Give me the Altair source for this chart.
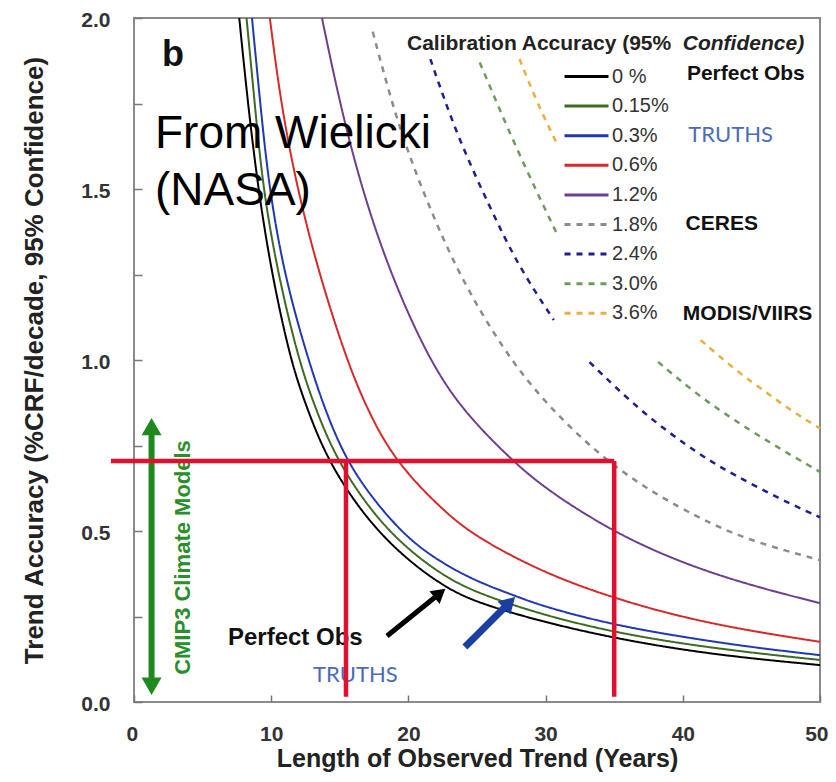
import altair as alt
import pandas as pd

# ---------------- data ----------------
acc_labels = ["0 %", "0.15%", "0.3%", "0.6%", "1.2%", "1.8%", "2.4%", "3.0%", "3.6%"]
acc_colors = ["#000000", "#3d6b22", "#2238b0", "#d62a2a", "#6f3f8f",
              "#8c8c8c", "#1f1f8f", "#6e9b5c", "#e8b040"]
acc_dashes = [[1, 0], [1, 0], [1, 0], [1, 0], [1, 0], [6, 6], [6, 6], [6, 6], [6, 6]]
acc_widths = [2, 2, 2, 2, 2, 2.5, 2.5, 2.5, 2.5]

black_years = [7.67, 8.3, 9.05, 10.0, 11.4, 12.5, 14.1, 17.0, 20.0, 22.7, 25.0, 30.0, 35.0, 40.0, 45.0, 50.0]
black_vals = [2.0, 1.75, 1.5, 1.26, 1.0, 0.87, 0.705, 0.53, 0.412, 0.335, 0.29, 0.232, 0.187, 0.152, 0.127, 0.108]

green_years = [8.2, 8.8, 9.4, 10.5, 12.0, 13.2, 14.8, 17.5, 20.0, 22.5, 25.0, 30.0, 35.0, 40.0, 45.0, 50.0]
green_vals = [2.0, 1.75, 1.5, 1.25, 1.0, 0.86, 0.705, 0.545, 0.445, 0.37, 0.318, 0.252, 0.204, 0.17, 0.144, 0.123]

blue_years = [8.6, 9.2, 9.85, 11.0, 12.7, 14.0, 15.5, 17.5, 20.0, 22.5, 25.0, 27.8, 30.0, 35.0, 40.0, 45.0, 50.0]
blue_vals = [2.0, 1.75, 1.5, 1.24, 1.0, 0.845, 0.705, 0.588, 0.475, 0.405, 0.352, 0.31, 0.277, 0.225, 0.19, 0.16, 0.137]

red_years = [9.9, 10.7, 11.9, 13.5, 15.5, 17.0, 19.0, 22.5, 25.0, 30.0, 35.0, 40.0, 45.0, 50.0]
red_vals = [2.0, 1.75, 1.5, 1.25, 1.0, 0.855, 0.705, 0.56, 0.48, 0.375, 0.303, 0.247, 0.207, 0.176]

purple_years = [13.7, 15.0, 16.6, 18.7, 21.5, 24.0, 27.4, 30.0, 35.0, 40.0, 45.0, 50.0]
purple_vals = [2.0, 1.75, 1.5, 1.25, 1.0, 0.85, 0.712, 0.622, 0.495, 0.405, 0.34, 0.289]

gray_years = [17.4, 19.0, 20.7, 23.5, 26.9, 30.0, 35.2, 41.3, 45.0, 50.0]
gray_vals = [1.96, 1.72, 1.526, 1.26, 1.03, 0.87, 0.672, 0.533, 0.47, 0.415]

navy_years_a = [21.6, 23.5, 25.9, 28.0, 30.6]
navy_vals_a = [1.88, 1.66, 1.45, 1.275, 1.117]
navy_years_b = [33.2, 37.0, 41.3, 43.7, 47.0, 50.0]
navy_vals_b = [0.994, 0.846, 0.72, 0.665, 0.595, 0.54]

lgreen_years_a = [25.2, 27.9, 30.8]
lgreen_vals_a = [1.87, 1.614, 1.371]
lgreen_years_b = [38.2, 41.0, 43.7, 47.0, 50.0]
lgreen_vals_b = [0.994, 0.9, 0.825, 0.742, 0.673]

orange_years_a = [28.1, 29.4, 30.8]
orange_vals_a = [1.88, 1.75, 1.635]
orange_years_b = [41.3, 44.0, 46.1, 48.0, 50.0]
orange_vals_b = [1.058, 0.965, 0.905, 0.849, 0.80]

series = {
    "0 %": [(black_years, black_vals)],
    "0.15%": [(green_years, green_vals)],
    "0.3%": [(blue_years, blue_vals)],
    "0.6%": [(red_years, red_vals)],
    "1.2%": [(purple_years, purple_vals)],
    "1.8%": [(gray_years, gray_vals)],
    "2.4%": [(navy_years_a, navy_vals_a), (navy_years_b, navy_vals_b)],
    "3.0%": [(lgreen_years_a, lgreen_vals_a), (lgreen_years_b, lgreen_vals_b)],
    "3.6%": [(orange_years_a, orange_vals_a), (orange_years_b, orange_vals_b)],
}

# red guide lines (horizontal then two verticals)
red_x1 = [-1.68, 15.45, 35.0]
red_x2 = [35.0, 15.45, 35.0]
red_y1 = [0.705, 0.705, 0.705]
red_y2 = [0.705, 0.015, 0.015]

# arrows: shafts (start -> head centre) and heads
arrow_x1 = [1.28, 18.44, 24.12]
arrow_y1 = [0.805, 0.193, 0.161]
arrow_x2 = [1.28, 22.3, 27.37]
arrow_y2 = [0.046, 0.318, 0.291]
arrow_colors = ["#1e8a1e", "#000000", "#1a3fa0"]
arrow_widths = [6, 5, 7]
head_x = [1.28, 1.28, 22.3, 27.37]
head_y = [0.805, 0.046, 0.318, 0.291]
head_angle = [0, 180, 51, 45]
head_size = [400, 400, 260, 330]
head_colors = ["#1e8a1e", "#1e8a1e", "#000000", "#1a3fa0"]

# ---------------- build ----------------
rows = []
for acc, segs in series.items():
    w = acc_widths[acc_labels.index(acc)]
    for i, (xs, ys) in enumerate(segs):
        for x, y in zip(xs, ys):
            rows.append({"year": x, "value": y, "acc": acc, "seg": f"{acc}#{i}", "sw": w})
curves = pd.DataFrame(rows)

X_SCALE = alt.Scale(domain=[0, 50], nice=False, zero=False)
Y_SCALE = alt.Scale(domain=[0, 2], nice=False, zero=False)
FONT = "Liberation Sans"

x_axis = alt.Axis(values=[0, 10, 20, 30, 40, 50], format="d",
                  title="Length of Observed Trend (Years)",
                  tickSize=alt.ExprRef(expr="-7"), labelPadding=28, titlePadding=2,
                  titleFontSize=25, labelFlush=True, labelFlushOffset=8)
y_ticks = [i * 0.25 for i in range(9)]
y_axis = alt.Axis(values=y_ticks,
                  labelExpr="datum.value % 0.5 == 0 ? format(datum.value, '.1f') : ''",
                  title="Trend Accuracy (%CRF/decade, 95% Confidence)",
                  tickSize=alt.ExprRef(expr="-8"), labelPadding=32, titlePadding=33,
                  labelOffset=2, labelFlush=False)


def X(field="year"):
    return alt.X(f"{field}:Q", scale=X_SCALE, axis=x_axis)


def Y(field="value"):
    return alt.Y(f"{field}:Q", scale=Y_SCALE, axis=y_axis)


leg = alt.Legend(title=None, orient="none", legendX=440, legendY=46,
                 symbolType="M-2,0L2,0", symbolSize=484, symbolStrokeWidth=3,
                 labelFont=FONT, labelFontSize=20, labelColor="#333333",
                 rowPadding=6.6, labelOffset=13, padding=0)

lines = alt.Chart(curves).mark_line(interpolate="basis").encode(
    x=X(), y=Y(),
    color=alt.Color("acc:N", scale=alt.Scale(domain=acc_labels, range=acc_colors), legend=leg),
    strokeDash=alt.StrokeDash("acc:N", scale=alt.Scale(domain=acc_labels, range=acc_dashes), legend=leg),
    strokeWidth=alt.StrokeWidth("sw:Q", scale=None, legend=None),
    detail="seg:N",
)


def text_layer(labels, xs, ys, **mk):
    df = pd.DataFrame({"year": xs, "value": ys, "label": labels})
    return alt.Chart(df).mark_text(**mk).encode(x=X(), y=Y(), text="label:N")


red_df = pd.DataFrame({"year": red_x1, "year2": red_x2, "value": red_y1, "value2": red_y2})
red_rules = alt.Chart(red_df).mark_rule(color="#e2102e", strokeWidth=4.5).encode(
    x=X(), x2="year2:Q", y=Y(), y2="value2:Q",
)

arr_df = pd.DataFrame({"year": arrow_x1, "value": arrow_y1, "year2": arrow_x2,
                       "value2": arrow_y2, "c": arrow_colors, "w": arrow_widths})
shafts = alt.Chart(arr_df).mark_rule().encode(
    x=X(), x2="year2:Q", y=Y(), y2="value2:Q",
    color=alt.Color("c:N", scale=None, legend=None),
    strokeWidth=alt.StrokeWidth("w:Q", scale=None, legend=None),
)
head_df = pd.DataFrame({"year": head_x, "value": head_y, "ang": head_angle,
                        "sz": head_size, "c": head_colors})
heads = alt.Chart(head_df).mark_point(shape="triangle-up", filled=True, opacity=1).encode(
    x=X(), y=Y(),
    angle=alt.Angle("ang:Q", scale=None),
    size=alt.Size("sz:Q", scale=None, legend=None),
    color=alt.Color("c:N", scale=None, legend=None),
)

txt_b = text_layer(["b"], [2.04], [1.86], font=FONT, fontSize=36, fontWeight="bold",
                   align="left", baseline="alphabetic", color="#111")
txt_src = text_layer(["From Wielicki\n(NASA)"], [1.53], [1.62], font=FONT, fontSize=46,
                     lineBreak="\n", lineHeight=57, align="left", baseline="alphabetic", color="#000")
txt_leg_title = text_layer(["Calibration Accuracy (95%"], [19.9], [1.906], font=FONT, fontSize=21,
                           fontWeight="bold", align="left", baseline="alphabetic", color="#222")
txt_leg_title2 = text_layer(["Confidence)"], [40.0], [1.906], font=FONT, fontSize=21,
                            fontWeight="bold", fontStyle="italic", align="left",
                            baseline="alphabetic", color="#222")
txt_bold_ann = text_layer(["Perfect Obs", "CERES", "MODIS/VIIRS"], [40.3, 40.2, 40.0],
                          [1.819, 1.380, 1.117], font=FONT, fontSize=21, fontWeight="bold",
                          align="left", baseline="alphabetic", color="#111")
txt_truths = text_layer(["TRUTHS", "TRUTHS"], [40.4, 13.05], [1.637, 0.058], font="Lato",
                        fontSize=22, align="left", baseline="alphabetic", color="#4a6cb8")
txt_perfect = text_layer(["Perfect Obs"], [6.85], [0.167], font=FONT, fontSize=24,
                         fontWeight="bold", align="left", baseline="alphabetic", color="#111")
txt_cmip = text_layer(["CMIP3 Climate Models"], [3.57], [0.4225], font=FONT, fontSize=22,
                      fontWeight="bold", angle=270, align="center", baseline="middle",
                      color="#2a8f2a")

chart = alt.layer(
    lines, txt_src, txt_b, txt_leg_title, txt_leg_title2, txt_bold_ann, txt_truths,
    txt_perfect, txt_cmip, shafts, heads, red_rules,
).properties(
    width=686, height=684,
    autosize=alt.AutoSizeParams(type="none"),
    padding={"left": 126, "top": 10, "right": 8, "bottom": 72},
    background="white",
).configure_axis(
    labelFont=FONT, labelFontWeight="bold", labelFontSize=21, labelColor="#333333",
    titleFont=FONT, titleFontWeight="bold", titleFontSize=26, titleColor="#222222",
    grid=False, domain=False, tickColor="#777777", tickWidth=1.5,
).configure_view(stroke="#8a8a8a", strokeWidth=2)

chart.save("out.html", embed_options={"renderer": "svg", "actions": False})
